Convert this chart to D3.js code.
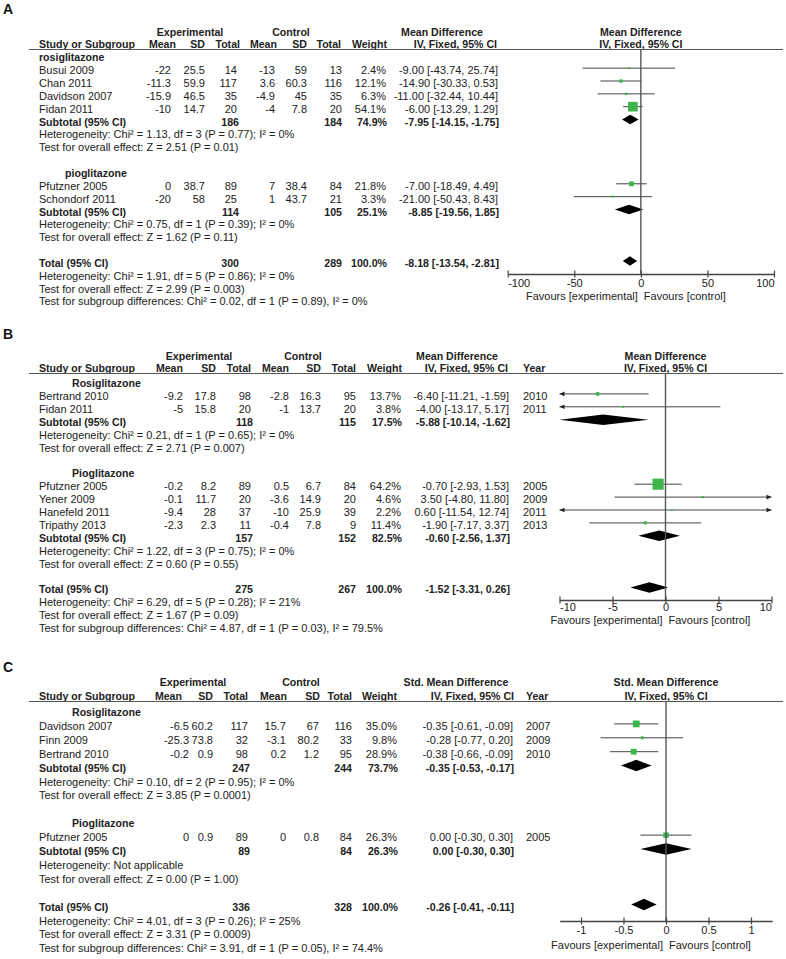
<!DOCTYPE html>
<html><head><meta charset="utf-8">
<script src="https://cdn.jsdelivr.net/npm/d3@7"></script>
<style>
html,body{margin:0;padding:0;background:#fff;}
svg text{font-family:"Liberation Sans",Arial,Helvetica,sans-serif;fill:#222;}
</style></head><body>
<svg id="chart" width="786" height="959"></svg>
<script>
// ---------- DATA ----------
// study rows: [name, groupIndex, expMean, expSD, expTotal, ctlMean, ctlSD, ctlTotal, weight%, estimate, lower, upper, year]
const groupsA = ["rosiglitazone", "pioglitazone"];
const studiesA = [
  ["Busui 2009", 0, -22, 25.5, 14, -13, 59, 13, 2.4, -9.00, -43.74, 25.74],
  ["Chan 2011", 0, -11.3, 59.9, 117, 3.6, 60.3, 116, 12.1, -14.90, -30.33, 0.53],
  ["Davidson 2007", 0, -15.9, 46.5, 35, -4.9, 45, 35, 6.3, -11.00, -32.44, 10.44],
  ["Fidan 2011", 0, -10, 14.7, 20, -4, 7.8, 20, 54.1, -6.00, -13.29, 1.29],
  ["Pfutzner 2005", 1, 0, 38.7, 89, 7, 38.4, 84, 21.8, -7.00, -18.49, 4.49],
  ["Schondorf 2011", 1, -20, 58, 25, 1, 43.7, 21, 3.3, -21.00, -50.43, 8.43]
];
// subtotal rows: [expTotal, ctlTotal, weight%, estimate, lower, upper]
const subtotalsA = [[186, 184, 74.9, -7.95, -14.15, -1.75], [114, 105, 25.1, -8.85, -19.56, 1.85]];
const subStatsA = [
  ["Heterogeneity: Chi\u00b2 = 1.13, df = 3 (P = 0.77); I\u00b2 = 0%", "Test for overall effect: Z = 2.51 (P = 0.01)"],
  ["Heterogeneity: Chi\u00b2 = 0.75, df = 1 (P = 0.39); I\u00b2 = 0%", "Test for overall effect: Z = 1.62 (P = 0.11)"]
];
const totalA = [300, 289, 100.0, -8.18, -13.54, -2.81];
const totalStatsA = [
  "Heterogeneity: Chi\u00b2 = 1.91, df = 5 (P = 0.86); I\u00b2 = 0%",
  "Test for overall effect: Z = 2.99 (P = 0.003)",
  "Test for subgroup differences: Chi\u00b2 = 0.02, df = 1 (P = 0.89), I\u00b2 = 0%"
];
const ticksA = [-100, -50, 0, 50, 100];

const groupsB = ["Rosiglitazone", "Pioglitazone"];
const studiesB = [
  ["Bertrand 2010", 0, -9.2, 17.8, 98, -2.8, 16.3, 95, 13.7, -6.40, -11.21, -1.59, 2010],
  ["Fidan 2011", 0, -5, 15.8, 20, -1, 13.7, 20, 3.8, -4.00, -13.17, 5.17, 2011],
  ["Pfutzner 2005", 1, -0.2, 8.2, 89, 0.5, 6.7, 84, 64.2, -0.70, -2.93, 1.53, 2005],
  ["Yener 2009", 1, -0.1, 11.7, 20, -3.6, 14.9, 20, 4.6, 3.50, -4.80, 11.80, 2009],
  ["Hanefeld 2011", 1, -9.4, 28, 37, -10, 25.9, 39, 2.2, 0.60, -11.54, 12.74, 2011],
  ["Tripathy 2013", 1, -2.3, 2.3, 11, -0.4, 7.8, 9, 11.4, -1.90, -7.17, 3.37, 2013]
];
const subtotalsB = [[118, 115, 17.5, -5.88, -10.14, -1.62], [157, 152, 82.5, -0.60, -2.56, 1.37]];
const subStatsB = [
  ["Heterogeneity: Chi\u00b2 = 0.21, df = 1 (P = 0.65); I\u00b2 = 0%", "Test for overall effect: Z = 2.71 (P = 0.007)"],
  ["Heterogeneity: Chi\u00b2 = 1.22, df = 3 (P = 0.75); I\u00b2 = 0%", "Test for overall effect: Z = 0.60 (P = 0.55)"]
];
const totalB = [275, 267, 100.0, -1.52, -3.31, 0.26];
const totalStatsB = [
  "Heterogeneity: Chi\u00b2 = 6.29, df = 5 (P = 0.28); I\u00b2 = 21%",
  "Test for overall effect: Z = 1.67 (P = 0.09)",
  "Test for subgroup differences: Chi\u00b2 = 4.87, df = 1 (P = 0.03), I\u00b2 = 79.5%"
];
const ticksB = [-10, -5, 0, 5, 10];

const groupsC = ["Rosiglitazone", "Pioglitazone"];
const studiesC = [
  ["Davidson 2007", 0, -6.5, 60.2, 117, 15.7, 67, 116, 35.0, -0.35, -0.61, -0.09, 2007],
  ["Finn 2009", 0, -25.3, 73.8, 32, -3.1, 80.2, 33, 9.8, -0.28, -0.77, 0.20, 2009],
  ["Bertrand 2010", 0, -0.2, 0.9, 98, 0.2, 1.2, 95, 28.9, -0.38, -0.66, -0.09, 2010],
  ["Pfutzner 2005", 1, 0, 0.9, 89, 0, 0.8, 84, 26.3, 0.00, -0.30, 0.30, 2005]
];
const subtotalsC = [[247, 244, 73.7, -0.35, -0.53, -0.17], [89, 84, 26.3, 0.00, -0.30, 0.30]];
const subStatsC = [
  ["Heterogeneity: Chi\u00b2 = 0.10, df = 2 (P = 0.95); I\u00b2 = 0%", "Test for overall effect: Z = 3.85 (P = 0.0001)"],
  ["Heterogeneity: Not applicable", "Test for overall effect: Z = 0.00 (P = 1.00)"]
];
const totalC = [336, 328, 100.0, -0.26, -0.41, -0.11];
const totalStatsC = [
  "Heterogeneity: Chi\u00b2 = 4.01, df = 3 (P = 0.26); I\u00b2 = 25%",
  "Test for overall effect: Z = 3.31 (P = 0.0009)",
  "Test for subgroup differences: Chi\u00b2 = 3.91, df = 1 (P = 0.05), I\u00b2 = 74.4%"
];
const ticksC = [-1, -0.5, 0, 0.5, 1];

const panelLabels = ["A", "B", "C"];
const measureLabels = ["Mean Difference", "Mean Difference", "Std. Mean Difference"];
const methodLabel = "IV, Fixed, 95% CI";
const favourLabels = ["Favours [experimental]", "Favours [control]"];

// ---------- LAYOUT ----------
const layouts = [
  { labelY: 14, hdr1Y: 36, hdr2Y: 48, ruleY: 49.5, rowY0: 61.3, step: 12.85,
    cols: {eM:171, eSD:205, eN:237, cM:275, cSD:307, cN:342, w:386, est:498},
    hcols: {eM:176, eSD:205, eN:240, cM:277, cSD:307, cN:341, w:387, est:497},
    expC: 190, ctlC: 291, estC: 442, year: null, groupX: [39, 65],
    domain: [-100, 100], range: [507.7, 774], axisY: 274, tickDy: 13, favY: 300, diamondH: 9.5 },
  { labelY: 339, hdr1Y: 360, hdr2Y: 372, ruleY: 373.5, rowY0: 387, step: 12.9,
    cols: {eM:183, eSD:216, eN:251, cM:289, cSD:321, cN:356, w:401, est:509},
    hcols: {eM:183, eSD:216, eN:251, cM:289, cSD:321, cN:356, w:402, est:508},
    expC: 199, ctlC: 303, estC: 457, year: 523, groupX: [72, 72],
    domain: [-10, 10], range: [559.5, 771.5], axisY: 600, tickDy: 11, favY: 624, diamondH: 10.5 },
  { labelY: 672, hdr1Y: 686, hdr2Y: 700, ruleY: 701.5, rowY0: 716, step: 13.9,
    cols: {eM:189, eSD:213, eN:248, cM:286, cSD:319, cN:352, w:397, est:513},
    hcols: {eM:182, eSD:213, eN:248, cM:287, cSD:320, cN:352, w:397, est:514},
    expC: 193, ctlC: 301, estC: 456, year: 526, groupX: [72, 72],
    domain: [-1.25, 1.25], range: [559.75, 772.25], axisY: 921, tickDy: 13, favY: 949, diamondH: 11.5 }
];

const svg = d3.select("#chart");
const REG = 11, BOLD = 10.6;
const sizeScale = d3.scaleLinear().domain([0, 100]).range([1.5, 16.5]);

function txt(g, x, y, s, opts = {}) {
  return g.append("text").attr("x", x).attr("y", y).text(s)
    .attr("font-size", opts.bold ? BOLD : (opts.size || REG))
    .attr("font-weight", opts.bold ? "bold" : "normal")
    .attr("text-anchor", opts.anchor || "start");
}
const fmtW = w => w.toFixed(1) + "%";
const fmtEst = (m, l, u) => `${m.toFixed(2)} [${l.toFixed(2)}, ${u.toFixed(2)}]`;

function drawPanel(pi, groups, studies, subtotals, subStats, total, totalStats, ticks) {
  const L = layouts[pi];
  const g = svg.append("g");
  const x = d3.scaleLinear().domain(L.domain).range(L.range);
  const zeroX = x(0);
  const MO = -6; // mark offset from baseline

  g.append("text").attr("x", 3).attr("y", L.labelY).text(panelLabels[pi])
    .attr("font-size", 14).attr("font-weight", "bold").style("fill", "#111");

  // headers
  txt(g, L.expC, L.hdr1Y, "Experimental", {bold: true, anchor: "middle"});
  txt(g, L.ctlC, L.hdr1Y, "Control", {bold: true, anchor: "middle"});
  txt(g, L.estC, L.hdr1Y, measureLabels[pi], {bold: true, anchor: "middle"});
  txt(g, zeroX, L.hdr1Y, measureLabels[pi], {bold: true, anchor: "middle"});
  txt(g, 39, L.hdr2Y, "Study or Subgroup", {bold: true});
  const hc = L.hcols;
  [["eM","Mean"],["eSD","SD"],["eN","Total"],["cM","Mean"],["cSD","SD"],["cN","Total"],["w","Weight"],["est",methodLabel]]
    .forEach(([k, s]) => txt(g, hc[k], L.hdr2Y, s, {bold: true, anchor: "end"}));
  if (L.year) txt(g, L.year, L.hdr2Y, "Year", {bold: true});
  txt(g, zeroX, L.hdr2Y, methodLabel, {bold: true, anchor: "middle"});
  g.append("line").attr("x1", 29).attr("x2", 783).attr("y1", L.ruleY).attr("y2", L.ruleY)
    .attr("stroke", "#555").attr("stroke-width", 1.2);

  const c = L.cols;
  const rowY = i => L.rowY0 + i * L.step;
  const [dmin, dmax] = L.domain;

  function ciLine(lo, hi, yy) {
    const a = Math.max(lo, dmin), b = Math.min(hi, dmax);
    g.append("line").attr("x1", x(a)).attr("x2", x(b)).attr("y1", yy).attr("y2", yy)
      .attr("stroke", "#444").attr("stroke-width", 1);
    if (lo < dmin) {
      const x0 = x(dmin);
      g.append("path").attr("d", `M${x0},${yy}L${x0 + 5},${yy - 2.3}L${x0 + 5},${yy + 2.3}Z`).attr("fill", "#222");
    }
    if (hi > dmax) {
      const x1 = x(dmax);
      g.append("path").attr("d", `M${x1},${yy}L${x1 - 5},${yy - 2.3}L${x1 - 5},${yy + 2.3}Z`).attr("fill", "#222");
    }
  }
  function diamond(m, lo, hi, yy) {
    const a = x(Math.max(lo, dmin)), b = x(Math.min(hi, dmax)), h = L.diamondH / 2;
    g.append("path").attr("d", `M${a},${yy}L${x(m)},${yy - h}L${b},${yy}L${x(m)},${yy + h}Z`).attr("fill", "#000");
  }
  function summaryRow(label, s, yy) {
    txt(g, 39, yy, label, {bold: true});
    txt(g, c.eN + 2, yy, String(s[0]), {bold: true, anchor: "end"});
    txt(g, c.cN, yy, String(s[1]), {bold: true, anchor: "end"});
    txt(g, c.w + 1, yy, fmtW(s[2]), {bold: true, anchor: "end"});
    txt(g, c.est + 1, yy, fmtEst(s[3], s[4], s[5]), {bold: true, anchor: "end"});
    diamond(s[3], s[4], s[5], yy + MO);
  }

  let r = 0;
  groups.forEach((gname, gi) => {
    txt(g, L.groupX[gi], rowY(r), gname, {bold: true}); r++;
    studies.filter(s => s[1] === gi).forEach(s => {
      const yy = rowY(r);
      txt(g, 39, yy, s[0]);
      txt(g, c.eM, yy, String(s[2]), {anchor: "end"});
      txt(g, c.eSD, yy, String(s[3]), {anchor: "end"});
      txt(g, c.eN, yy, String(s[4]), {anchor: "end"});
      txt(g, c.cM, yy, String(s[5]), {anchor: "end"});
      txt(g, c.cSD, yy, String(s[6]), {anchor: "end"});
      txt(g, c.cN, yy, String(s[7]), {anchor: "end"});
      txt(g, c.w, yy, fmtW(s[8]), {anchor: "end"});
      txt(g, c.est, yy, fmtEst(s[9], s[10], s[11]), {anchor: "end"});
      if (L.year && s[12] != null) txt(g, L.year, yy, String(s[12]));
      ciLine(s[10], s[11], yy + MO);
      const side = sizeScale(s[8]);
      g.append("rect").attr("x", x(s[9]) - side / 2).attr("y", yy + MO - side / 2)
        .attr("width", side).attr("height", side).attr("fill", "#3cb54a");
      r++;
    });
    summaryRow("Subtotal (95% CI)", subtotals[gi], rowY(r)); r++;
    subStats[gi].forEach(s => { txt(g, 39, rowY(r), s); r++; });
    r++;
  });
  summaryRow("Total (95% CI)", total, rowY(r)); r++;
  totalStats.forEach(s => { txt(g, 39, rowY(r), s); r++; });

  // zero line
  g.append("line").attr("x1", zeroX).attr("x2", zeroX).attr("y1", L.ruleY).attr("y2", L.axisY)
    .attr("stroke", "#555").attr("stroke-width", 1.4);

  // axis
  const axis = d3.axisBottom(x).tickValues(ticks).tickSizeOuter(0).tickSizeInner(3.5).tickFormat(d => String(d));
  const ag = g.append("g").attr("transform", `translate(0,${L.axisY})`).call(axis).attr("font-size", REG);
  ag.select(".domain").attr("stroke", "#444").attr("stroke-width", 1.3);
  ag.selectAll(".tick line").attr("y1", -3.5).attr("y2", 3.5).attr("stroke", "#444").attr("stroke-width", 1.2);
  ag.selectAll(".tick text").attr("y", L.tickDy).attr("dy", null).attr("font-size", REG)
    .attr("text-anchor", d => d === dmin ? "start" : (d === dmax ? "end" : "middle"));

  txt(g, zeroX - 3, L.favY, favourLabels[0], {anchor: "end"});
  txt(g, zeroX + 3, L.favY, favourLabels[1]);
}

drawPanel(0, groupsA, studiesA, subtotalsA, subStatsA, totalA, totalStatsA, ticksA);
drawPanel(1, groupsB, studiesB, subtotalsB, subStatsB, totalB, totalStatsB, ticksB);
drawPanel(2, groupsC, studiesC, subtotalsC, subStatsC, totalC, totalStatsC, ticksC);
</script></body></html>
